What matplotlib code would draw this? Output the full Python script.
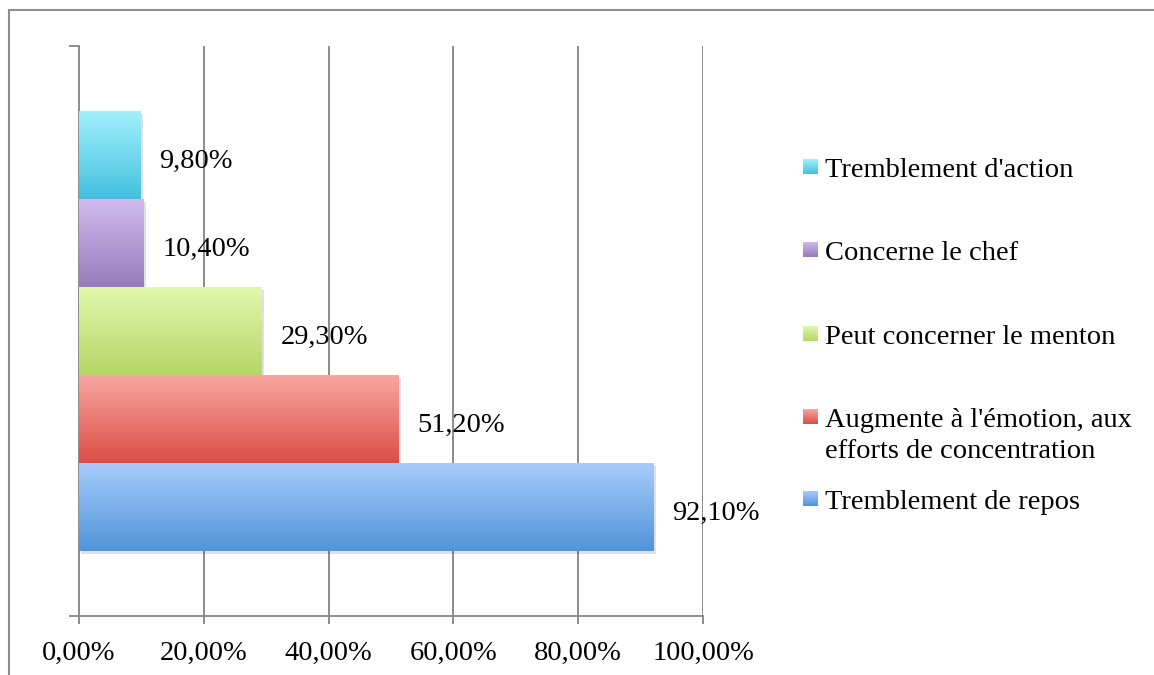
import numpy as np
import matplotlib
matplotlib.use("Agg")
import matplotlib.pyplot as plt
from matplotlib.colors import LinearSegmentedColormap
from matplotlib.lines import Line2D
from matplotlib.patches import Rectangle

# Data (bottom to top)
series = ["Tremblement de repos",
          "Augmente à l'émotion, aux\nefforts de concentration",
          "Peut concerner le menton",
          "Concerne le chef",
          "Tremblement d'action"]
values = [92.1, 51.2, 29.3, 10.4, 9.8]
labels = ["92,10%", "51,20%", "29,30%", "10,40%", "9,80%"]
xticks = [0, 20, 40, 60, 80, 100]
xticklabels = ["0,00%", "20,00%", "40,00%", "60,00%", "80,00%", "100,00%"]

top_colors = ["#A8CCFB", "#F8A7A1", "#E2F8AC", "#D0BCEE", "#A2F0FB"]
bot_colors = ["#5194DA", "#DC4D45", "#B3D767", "#977BBD", "#43C0DF"]

FONT = "Liberation Serif"
FS = 20.5

fig = plt.figure(figsize=(11.54, 6.75), dpi=100)
ax = fig.add_axes([79/1154, 59/675, 624/1154, 570/675])

n = len(values)
bh = 88/570
ys = (np.arange(n) - (n-1)/2) * bh
ax.set_xlim(0, 100)
ax.set_ylim(-0.5, 0.5)

for x in xticks[1:]:
    ax.axvline(x, color="#8C8C8C", lw=1.4, zorder=0)

bars = ax.barh(ys, values, height=bh, color="none", edgecolor="none", zorder=3)
for i, p in enumerate(bars.patches):
    x0, y0 = p.get_x(), p.get_y()
    w, h = p.get_width(), p.get_height()
    # shadow
    ax.add_patch(Rectangle((x0 + 0.4, y0 - 0.006), w, h, facecolor="#000000",
                           alpha=0.12, edgecolor="none", zorder=2))
    cmap = LinearSegmentedColormap.from_list("g%d" % i, [bot_colors[i], top_colors[i]])
    grad = np.linspace(0, 1, 256).reshape(-1, 1)
    im = ax.imshow(grad, extent=(x0, x0 + w, y0, y0 + h), origin="lower",
                   cmap=cmap, aspect="auto", zorder=4)
    im.set_clip_path(p)
    ax.text(x0 + w + 3.0, ys[i] - 13/570, labels[i], va="baseline", ha="left",
            fontsize=FS, family=FONT, color="black", zorder=5)

ax.set_xlim(0, 100)
ax.set_ylim(-0.5, 0.5)

for s in ["top", "right"]:
    ax.spines[s].set_visible(False)
for s in ["left", "bottom"]:
    ax.spines[s].set_color("#8C8C8C")
    ax.spines[s].set_linewidth(1.4)

ax.set_xticks(xticks)
ax.set_xticklabels(xticklabels, family=FONT, fontsize=FS)
ax.set_yticks([-0.5, 0.5])
ax.set_yticklabels(["", ""])
ax.tick_params(axis="x", length=6, width=1.4, color="#8C8C8C", pad=12)
ax.tick_params(axis="y", length=7, width=1.4, color="#8C8C8C")

# manual legend (top to bottom), baselines in px
leg_base = [177, 260, 344, 427, 509]
for k, i in enumerate(range(n-1, -1, -1)):
    yb = 1 - leg_base[k]/675
    cmap = LinearSegmentedColormap.from_list("l%d" % i, [bot_colors[i], top_colors[i]])
    lax = fig.add_axes([803/1154, yb + 3/675, 15/1154, 15/675])
    lax.imshow(np.linspace(0, 1, 64).reshape(-1, 1), cmap=cmap, origin="lower", aspect="auto")
    lax.axis("off")
    lines = series[i].split("\n")
    for j, line in enumerate(lines):
        fig.text(825/1154, yb - j*31/675, line, va="baseline", ha="left",
                 fontsize=FS, family=FONT)

# frame lines
fig.add_artist(Line2D([9/1154, 9/1154], [0, 1 - 10/675], transform=fig.transFigure,
                      color="#8C8C8C", lw=1.5))
fig.add_artist(Line2D([9/1154, 1], [1 - 10/675, 1 - 10/675], transform=fig.transFigure,
                      color="#8C8C8C", lw=1.5))

fig.savefig("out.png", dpi=100)
